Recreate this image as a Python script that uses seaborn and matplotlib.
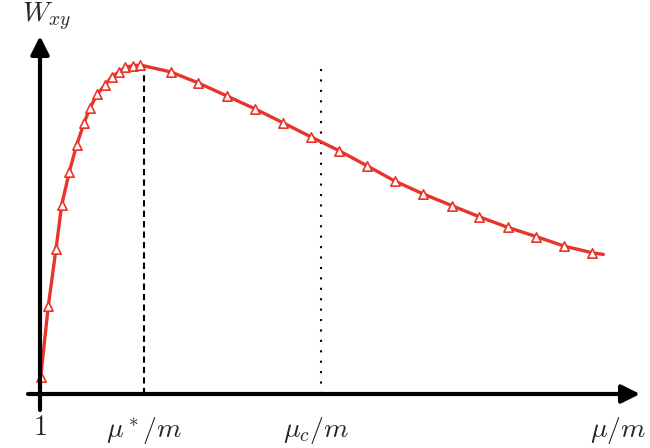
import numpy as np
import pandas as pd
import matplotlib
matplotlib.use("Agg")
import matplotlib.pyplot as plt
import seaborn as sns

# values (x in units of mu/m, y normalised to the peak)
mu_marks = [1.007, 1.083, 1.16, 1.217, 1.293, 1.367, 1.44, 1.50, 1.573, 1.65,
            1.717, 1.79, 1.853, 1.927, 2.00, 2.307, 2.58, 2.87, 3.15, 3.43,
            3.71, 3.993, 4.273, 4.55, 4.833, 5.117, 5.393, 5.677, 5.963,
            6.243, 6.523]
w_marks = [0.0515, 0.267, 0.439, 0.573, 0.673, 0.755, 0.821, 0.867, 0.909,
           0.936, 0.961, 0.976, 0.991, 0.994, 0.997, 0.976, 0.943, 0.903,
           0.864, 0.822, 0.779, 0.737, 0.691, 0.645, 0.606, 0.571, 0.537,
           0.505, 0.477, 0.448, 0.428]

# smooth curve: same points plus start and end of the line
mu_line = [1.0] + mu_marks + [6.633]
w_line = [0.007] + w_marks + [0.423]

mu_star = 2.04
mu_c = 3.81

red = "#e8342a"

sns.set_style("white")
plt.rcParams["mathtext.fontset"] = "cm"

fig = plt.figure(figsize=(6.5, 4.48), dpi=100)
ax = fig.add_axes([0, 0, 1, 1])
ax.set_xlim(0.6, 7.1)
ax.set_ylim(-54 / 330, 394 / 330)
ax.axis("off")

line_df = pd.DataFrame({"mu": mu_line, "w": w_line})
mark_df = pd.DataFrame({"mu": mu_marks, "w": w_marks})

sns.lineplot(data=line_df, x="mu", y="w", color=red, linewidth=2.4, ax=ax, zorder=3)
sns.scatterplot(data=mark_df, x="mu", y="w", marker="^", s=45,
                facecolor="white", edgecolor=red, linewidth=1.2, ax=ax, zorder=4)
ax.set_xlabel("")
ax.set_ylabel("")

# reference lines
ax.plot([mu_star, mu_star], [0, 0.997], color="black", lw=1.5,
        linestyle=(0, (3, 2)), zorder=2)
ax.plot([mu_c, mu_c], [0, 0.985], color="black", lw=1.5,
        linestyle=(0, (1, 4)), zorder=2)

# axes with arrow heads
arrow = dict(arrowstyle="-|>,head_length=1.1,head_width=0.55", color="black",
             lw=3, shrinkA=0, shrinkB=0)
ax.annotate("", xy=(7.0, 0), xytext=(0.88, 0), arrowprops=arrow, zorder=5)
ax.annotate("", xy=(1.0, 358 / 330), xytext=(1.0, -16 / 330), arrowprops=arrow, zorder=5)

fs = 20
ax.text(1.0, -0.10, r"$1$", fontsize=fs, ha="center", va="center")
ax.text(mu_star, -0.11, r"$\mu^*/m$", fontsize=fs, ha="center", va="center")
ax.text(3.76, -0.11, r"$\mu_c/m$", fontsize=fs, ha="center", va="center")
ax.text(6.78, -0.11, r"$\mu/m$", fontsize=fs, ha="center", va="center")
ax.text(0.82, 1.127, r"$W_{xy}$", fontsize=fs, ha="left", va="baseline")

fig.savefig("out.png", dpi=100)
